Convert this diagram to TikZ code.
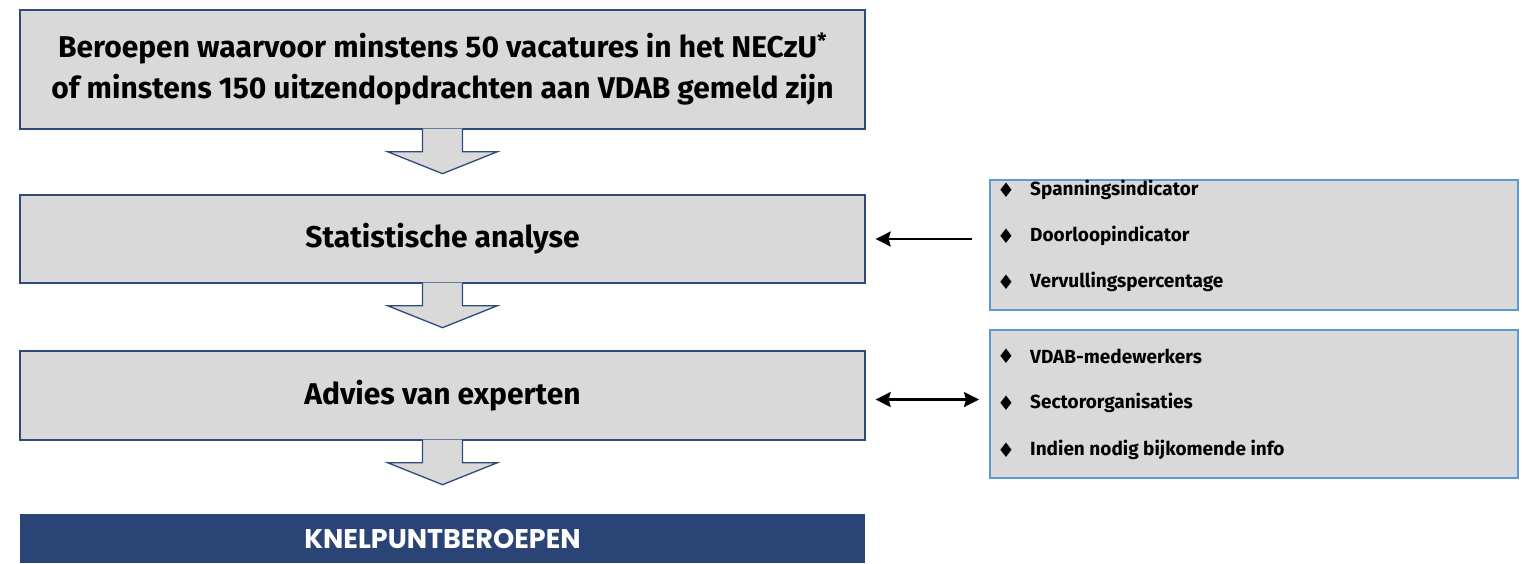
\documentclass[tikz,border=0pt]{standalone}
\usepackage{fontspec}
\setmainfont{Fira Sans}
\newfontfamily\barfont{Poppins}
\newfontfamily\symbolfont{DejaVu Sans}
\usetikzlibrary{arrows.meta,calc}

\definecolor{boxgray}{HTML}{D9D9D9}
\definecolor{navy}{HTML}{2F4B7C}
\definecolor{barblue}{HTML}{2A4475}
\definecolor{lightblue}{HTML}{5B9BD5}

\begin{document}
\begin{tikzpicture}[x=1pt,y=-1pt,
    >={Stealth[length=15pt,width=15pt,inset=2pt]},
    stepbox/.style={draw=navy, line width=1.3pt, fill=boxgray, minimum width=845pt,
      inner sep=0pt, align=center, font=\bfseries\fontsize{30}{41}\selectfont},
    infobox/.style={draw=lightblue, line width=2pt, fill=boxgray, minimum width=528pt, inner sep=0pt},
    bulletmark/.style={inner sep=0pt, font=\symbolfont\fontsize{20}{22}\selectfont},
    item/.style={anchor=west, inner sep=0pt, font=\bfseries\fontsize{19}{22}\selectfont},
    blockarrow/.style={draw=navy, line width=1.3pt, fill=boxgray, line join=miter},
    link/.style={line width=2.2pt}]

  \useasboundingbox (0,0) rectangle (1522,563);

  % main steps
  \node[stepbox, minimum height=119pt] (top) at (442.5,69.5)
    {Beroepen waarvoor minstens 50 vacatures in het NECzU\textsuperscript{*}\\
     of minstens 150 uitzendopdrachten aan VDAB gemeld zijn};
  \node[stepbox, minimum height=88pt] (stat) at (442.5,239) {Statistische analyse};
  \node[stepbox, minimum height=89pt] (advies) at (442.5,395.5) {Advies van experten};
  \node[fill=barblue, text=white, minimum width=845pt, minimum height=49pt, inner sep=0pt,
    font=\barfont\bfseries\fontsize{27}{30}\selectfont] (bar) at (442.5,538.5) {KNELPUNTBEROEPEN};

  % block arrows between the steps
  \foreach \a in {top,stat,advies}
    \draw[blockarrow] (\a.south) ++(-20,-1) -- ++(0,23) -- ++(-35,0) -- ++(55,22)
      -- ++(55,-22) -- ++(-35,0) -- ++(0,-23);

  % side boxes
  \node[infobox, minimum height=130pt] (info1) at (1254,245) {};
  \node[infobox, minimum height=148pt] (info2) at (1254,404) {};

  \foreach \t [count=\i] in {Spanningsindicator,Doorloopindicator,Vervullingspercentage} {
    \node[bulletmark] (ind\i) at (1006,{144+46*\i}) {♦};
    \node[item] (indtext\i) at (1030,{144+46*\i}) {\t};
  }
  \foreach \t [count=\i] in {VDAB-medewerkers,Sectororganisaties,Indien nodig bijkomende info} {
    \node[bulletmark] (exp\i) at (1006,{309+47*\i}) {♦};
    \node[item] (exptext\i) at (1030,{309+47*\i}) {\t};
  }

  \draw[link, ->, shorten <=17pt, shorten >=10pt] (stat.east -| info1.west) -- (stat.east);
  \draw[link, <->, shorten <=10pt, shorten >=10pt]
    ($(advies.east)+(0,4)$) -- ($(advies.east -| info2.west)+(0,4)$);
\end{tikzpicture}
\end{document}
